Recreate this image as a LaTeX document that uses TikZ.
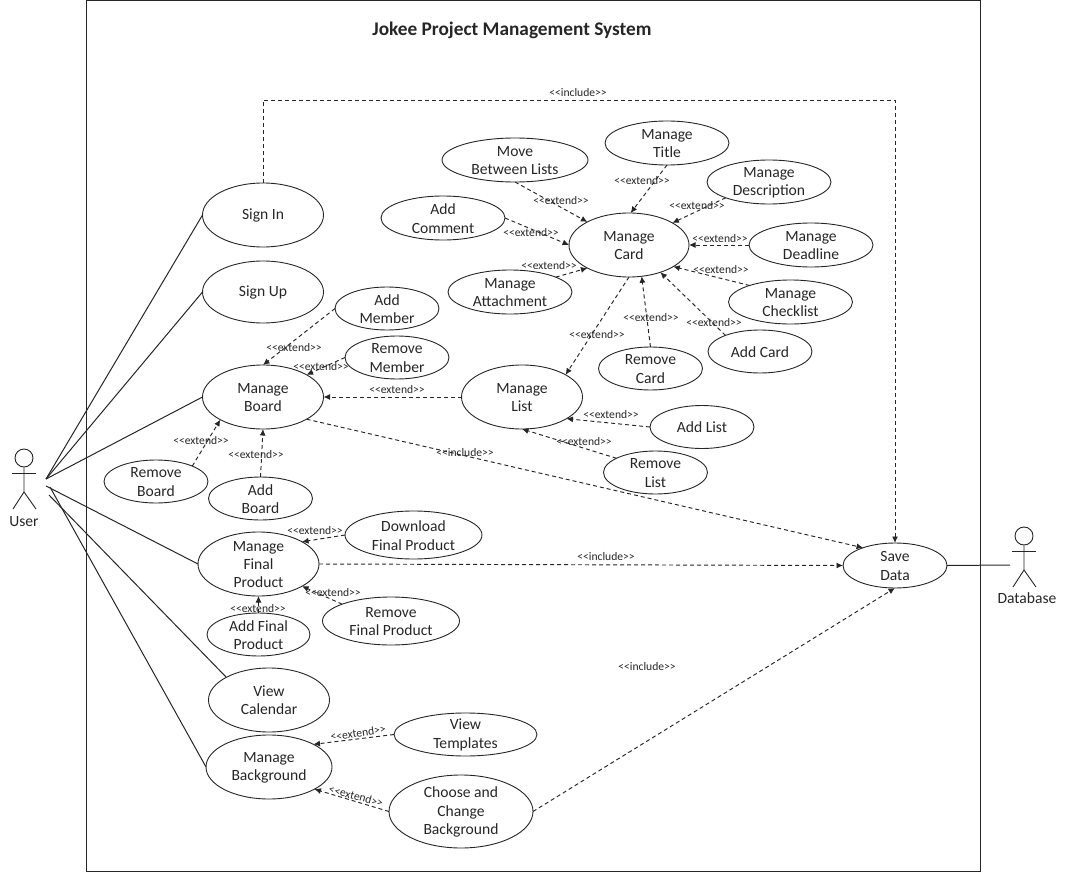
\documentclass[tikz,border=0pt]{standalone}
\usepackage{fontspec}
\setmainfont{Carlito}
\usetikzlibrary{shapes.geometric,arrows.meta}
\newcommand\extlab{<{}<extend>{}>}
\newcommand\inclab{<{}<include>{}>}
\tikzset{
  txt/.style={align=center,inner sep=0pt,font=\fontsize{15.6}{18.3}\selectfont,text=black!85},
  uc/.style n args={3}{ellipse,draw=black!85,line width=0.9pt,minimum width=#1pt,minimum height=#2pt,inner sep=0pt,outer sep=0pt,
    label={[txt,yshift=-0.5pt]center:{#3}}},
  ext/.style={draw=black!85,line width=0.95pt,dash pattern=on 4pt off 3pt,-{Latex[length=6.5pt,width=6pt]}},
  assoc/.style={draw=black!85,line width=1pt},
  lbl/.style={inner sep=0pt,font=\fontsize{11.6}{13}\selectfont,text=black!85},
  actorline/.style={draw=black!85,line width=0.9pt},
}
\begin{document}
\begin{tikzpicture}[x=1pt,y=-1pt]
\useasboundingbox (0,0) rectangle (1066,872);
\draw[actorline] (86,0) rectangle (980,871);
\node[inner sep=0pt,font=\bfseries\fontsize{19.3}{22}\selectfont,text=black!85] (title) at (512,30) {Jokee Project Management System};

% actors
\node[circle,draw=black!85,line width=0.9pt,minimum size=18pt,inner sep=0pt] (userhead) at (24,458) {};
\coordinate (userhip) at (24,492);
\draw[actorline] (userhead.south) -- (userhip) -- (13,509);
\draw[actorline] (userhip) -- (36,509);
\draw[actorline] (12,473) -- (36,473);
\node[txt] (user) at (24,522) {User};
\node[circle,draw=black!85,line width=0.9pt,minimum size=18pt,inner sep=0pt] (dbhead) at (1024,536) {};
\coordinate (dbhip) at (1024,570);
\draw[actorline] (dbhead.south) -- (dbhip) -- (1013,587);
\draw[actorline] (dbhip) -- (1036,587);
\draw[actorline] (1012,551) -- (1036,551);
\node[txt] (database) at (1027,598) {Database};

% use cases
\node[uc={121}{64}{Sign In}] (signin) at (263,215) {};
\node[uc={121}{62}{Sign Up}] (signup) at (263,292) {};
\node[uc={121}{64}{Manage\\Board}] (board) at (263,397) {};
\node[uc={104}{43}{Add\\Member}] (addmember) at (387,308.5) {};
\node[uc={104}{43}{Remove\\Member}] (remmember) at (397,357.5) {};
\node[uc={104}{43}{Remove\\Board}] (remboard) at (156,481.5) {};
\node[uc={104}{43}{Add\\Board}] (addboard) at (260.5,498.5) {};
\node[uc={121}{64}{Manage\\Final\\Product}] (final) at (258.5,564) {};
\node[uc={137}{48}{Download\\Final Product}] (download) at (413.5,535) {};
\node[uc={137}{48}{Remove\\Final Product}] (remfinal) at (391,621) {};
\node[uc={103}{43}{Add Final\\Product}] (addfinal) at (258.5,634.5) {};
\node[uc={121}{64}{View\\Calendar}] (calendar) at (269,700) {};
\node[uc={126}{64}{Manage\\Background}] (background) at (269,767) {};
\node[uc={143}{43}{View\\Templates}] (templates) at (465.5,734.5) {};
\node[uc={144}{73}{Choose and\\Change\\Background}] (choose) at (461,811.5) {};
\node[uc={104}{45}{Save\\Data}] (save) at (895,565.5) {};
\node[uc={121}{64}{Manage\\List}] (list) at (522,397) {};
\node[uc={104}{43}{Add List}] (addlist) at (702,427) {};
\node[uc={104}{43}{Remove\\List}] (remlist) at (655.5,472.5) {};
\node[uc={120}{64}{Manage\\Card}] (card) at (629,245) {};
\node[uc={146}{44}{Move\\Between Lists}] (move) at (515,160) {};
\node[uc={124}{44}{Manage\\Title}] (mtitle) at (667,143) {};
\node[uc={124}{44}{Manage\\Description}] (descr) at (769,182) {};
\node[uc={124}{44}{Add\\Comment}] (comment) at (443,218) {};
\node[uc={124}{44}{Manage\\Deadline}] (deadline) at (811,245) {};
\node[uc={124}{44}{Manage\\Attachment}] (attach) at (510,292) {};
\node[uc={124}{44}{Manage\\Checklist}] (checklist) at (790.5,302) {};
\node[uc={104}{43}{Add Card}] (addcard) at (760,351.5) {};
\node[uc={104}{43}{Remove\\Card}] (remcard) at (650.5,368.5) {};

% user associations
\coordinate (ua) at (46,479);
\coordinate (ub) at (46,486);
\coordinate (uc1) at (50,487);
\coordinate (ud) at (49,495);
\coordinate (dbarm) at (1010,565);
\draw[assoc] (ua) -- (signin.west);
\draw[assoc] (ua) -- (signup.west);
\draw[assoc] (ua) -- (board.west);
\draw[assoc] (ub) -- (final.west);
\draw[assoc] (ud) -- (calendar.152);
\draw[assoc] (uc1) -- (background.west);
\draw[assoc] (save.east) -- (dbarm);

% dashed connectors
\coordinate (incltop) at (579,100);
\draw[ext] (signin.north) |- (incltop) -| (save.north);
\draw[ext] (move.south) -- (card.151);
\draw[ext] (mtitle.south) -- (card.87);
\draw[ext] (descr.200) -- (card.27);
\draw[ext] (comment.east) -- (card.west);
\draw[ext] (deadline.west) -- (card.east);
\draw[ext] (attach.18) -- (card.209);
\draw[ext] (checklist.158) -- (card.-26);
\draw[ext] (addcard.155) -- (card.-41);
\draw[ext] (remcard.north) -- (card.-68);
\draw[ext] (card.south) -- (list.27);
\draw[ext] (addmember.west) -- (board.north);
\draw[ext] (remmember.west) -- (board.27);
\draw[ext] (list.west) -- (board.east);
\draw[ext] (board.-27) -- (save.151);
\draw[ext] (remboard.23) -- (board.208);
\draw[ext] (addboard.north) -- (board.south);
\draw[ext] (addlist.west) -- (list.-26);
\draw[ext] (remlist.160) -- (list.south);
\draw[ext] (download.west) -- (final.27);
\draw[ext] (final.east) -- (save.west);
\draw[ext] (remfinal.161) -- (final.-27);
\draw[ext] (addfinal.north) -- (final.south);
\draw[ext] (templates.west) -- (background.27);
\draw[ext] (choose.west) -- (background.-26);
\draw[ext] (choose.east) -- (save.south);

% connector labels
\node[lbl] (l1) at (578,93) {\inclab};
\node[lbl] (l2) at (561,201) {\extlab};
\node[lbl] (l3) at (642,181) {\extlab};
\node[lbl] (l4) at (697,206) {\extlab};
\node[lbl] (l5) at (531,233) {\extlab};
\node[lbl] (l6) at (720,239) {\extlab};
\node[lbl] (l7) at (549,266) {\extlab};
\node[lbl] (l8) at (721,270) {\extlab};
\node[lbl] (l9) at (714,323) {\extlab};
\node[lbl] (l10) at (651,318) {\extlab};
\node[lbl] (l11) at (597,335) {\extlab};
\node[lbl] (l12) at (294,348) {\extlab};
\node[lbl] (l13) at (321,367) {\extlab};
\node[lbl] (l14) at (397,390) {\extlab};
\node[lbl] (l15) at (201,441) {\extlab};
\node[lbl] (l16) at (256,455) {\extlab};
\node[lbl] (l17) at (465,453) {\inclab};
\node[lbl] (l18) at (315,531) {\extlab};
\node[lbl] (l19) at (333,593) {\extlab};
\node[lbl] (l20) at (258,609) {\extlab};
\node[lbl,rotate=8] (l21) at (358,733) {\extlab};
\node[lbl,rotate=-15] (l22) at (356,796) {\extlab};
\node[lbl] (l23) at (606,557) {\inclab};
\node[lbl] (l24) at (647,667) {\inclab};
\node[lbl] (l25) at (611,415) {\extlab};
\node[lbl] (l26) at (584,442) {\extlab};
\end{tikzpicture}
\end{document}
